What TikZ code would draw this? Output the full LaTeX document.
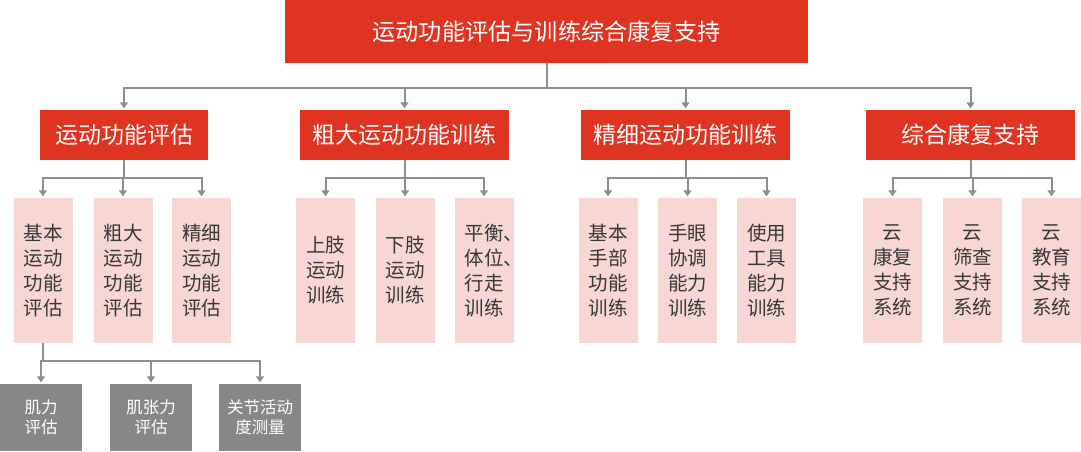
\documentclass[tikz,border=0pt]{standalone}
\usepackage{fontspec}
\setmainfont{Noto Sans CJK SC}
\usepackage{tikz}
\usetikzlibrary{arrows.meta}
\usepackage{xcolor}
\definecolor{hdred}{HTML}{DE3421}
\definecolor{subpink}{HTML}{F7D6D3}
\definecolor{leafgray}{HTML}{878787}
\definecolor{linkgray}{HTML}{8E8E8E}
\definecolor{txtdark}{HTML}{383838}

\begin{document}
\begin{tikzpicture}[x=1pt,y=-1pt,
  rootbox/.style={fill=hdred,text=white,inner sep=0,minimum width=523pt,minimum height=63pt,font=\fontsize{23.2}{27}\selectfont},
  headbox/.style={fill=hdred,text=white,inner sep=0,minimum width=209pt,minimum height=50pt,font=\fontsize{23}{26}\selectfont},
  subbox/.style={fill=subpink,text=txtdark,inner sep=0,minimum width=59pt,minimum height=145pt,align=center,font=\fontsize{19.5}{25}\selectfont},
  leafbox/.style={fill=leafgray,text=white,inner sep=0,minimum width=82pt,minimum height=67pt,align=center,font=\fontsize{16.5}{20}\selectfont},
  link/.style={draw=linkgray,line width=2pt},
  arr/.style={link,-{Triangle[width=8pt,length=6pt]},shorten >=1.5pt}]
\useasboundingbox (0,0) rectangle (1081,451);

% top
\node [rootbox] (root) at (546.5,31.5) {运动功能评估与训练综合康复支持};

% second row
\node [headbox,minimum width=168pt] (eval) at (124,135) {运动功能评估};
\node [headbox] (gross) at (404.5,135) {粗大运动功能训练};
\node [headbox] (fine) at (685.5,135) {精细运动功能训练};
\node [headbox] (care) at (970.5,135) {综合康复支持};

% third row
\node [subbox] (eval1) at (43,270.5) {基本\\运动\\功能\\评估};
\node [subbox] (eval2) at (123,270.5) {粗大\\运动\\功能\\评估};
\node [subbox] (eval3) at (201.5,270.5) {精细\\运动\\功能\\评估};
\node [subbox] (gross1) at (325.5,270.5) {上肢\\运动\\训练};
\node [subbox] (gross2) at (405,270.5) {下肢\\运动\\训练};
\node [subbox,align=left] (gross3) at (484,270.5) {\makebox[2em][l]{平衡、}\\\makebox[2em][l]{体位、}\\行走\\训练};
\node [subbox] (fine1) at (608,270.5) {基本\\手部\\功能\\训练};
\node [subbox] (fine2) at (687.5,270.5) {手眼\\协调\\能力\\训练};
\node [subbox] (fine3) at (766.5,270.5) {使用\\工具\\能力\\训练};
\node [subbox] (care1) at (892.5,270.5) {云\\康复\\支持\\系统};
\node [subbox] (care2) at (972.5,270.5) {云\\筛查\\支持\\系统};
\node [subbox] (care3) at (1051.5,270.5) {云\\教育\\支持\\系统};

% bottom row
\node [leafbox] (leaf1) at (41,417.5) {肌力\\评估};
\node [leafbox] (leaf2) at (151,417.5) {肌张力\\评估};
\node [leafbox] (leaf3) at (260,417.5) {关节活动\\度测量};

% connectors
\coordinate (j0) at (546.5,88);
\draw [link] (root) -- (j0);
\draw [arr] (j0) -| (eval);
\draw [arr] (j0) -| (gross);
\draw [arr] (j0) -| (fine);
\draw [arr] (j0) -| (care);

\draw [arr] (eval.south) -- ++(0,18) -| (eval1);
\draw [arr] (eval.south) -- ++(0,18) -| (eval2);
\draw [arr] (eval.south) -- ++(0,18) -| (eval3);
\draw [arr] (gross.south) -- ++(0,18) -| (gross1);
\draw [arr] (gross.south) -- ++(0,18) -| (gross2);
\draw [arr] (gross.south) -- ++(0,18) -| (gross3);
\draw [arr] (fine.south) -- ++(0,18) -| (fine1);
\draw [arr] (fine.south) -- ++(0,18) -| (fine2);
\draw [arr] (fine.south) -- ++(0,18) -| (fine3);
\draw [arr] (care.south) -- ++(0,18) -| (care1);
\draw [arr] (care.south) -- ++(0,18) -| (care2);
\draw [arr] (care.south) -- ++(0,18) -| (care3);

\draw [arr] (eval1.south) -- ++(0,18) -| (leaf1);
\draw [arr] (eval1.south) -- ++(0,18) -| (leaf2);
\draw [arr] (eval1.south) -- ++(0,18) -| (leaf3);
\end{tikzpicture}
\end{document}
